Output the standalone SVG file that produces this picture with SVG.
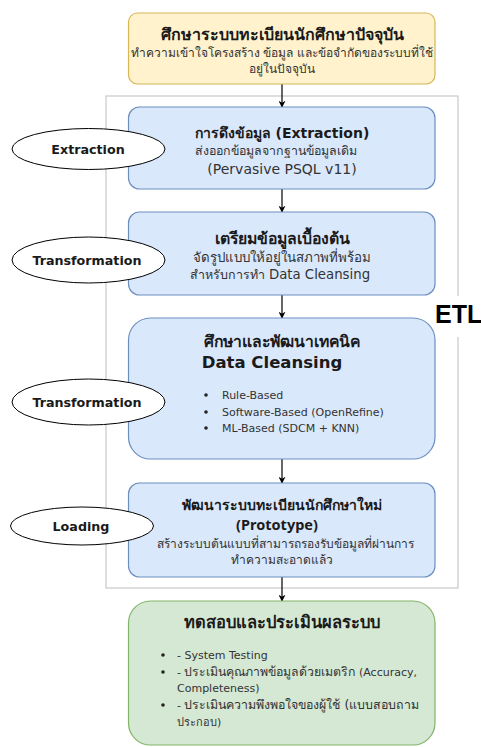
<svg xmlns="http://www.w3.org/2000/svg" width="481" height="747" viewBox="0 0 481 747">
  <defs>
    <marker id="arrow" viewBox="0 0 10 10" refX="9" refY="5" markerWidth="7" markerHeight="7" orient="auto" markerUnits="userSpaceOnUse">
      <path d="M0,0 L10,5 L0,10 L3,5 z" fill="#000"/>
    </marker>
    <style>
      text { font-family: "DejaVu Sans", "Noto Sans", sans-serif; fill: #1a1a1a; text-anchor: middle; }
      .title { font-weight: bold; }
      .narrow { font-family: "Noto Sans", "DejaVu Sans", sans-serif; }
      .sub { fill: #333; }
      .item { font-size: 11px; fill: #333; text-anchor: start; }
      .phase { font-size: 12.7px; font-weight: bold; }
      .etl { font-family: "Liberation Sans", Arial, sans-serif; font-size: 25px; font-weight: bold; fill: #000; text-anchor: start; }
      .yellow { fill: #fff2cc; stroke: #d6b656; stroke-width: 1.2; }
      .blue { fill: #dae8fc; stroke: #6c8ebf; stroke-width: 1.2; }
      .green { fill: #d5e8d4; stroke: #82b366; stroke-width: 1.2; }
      .oval { fill: #fff; stroke: #000; stroke-width: 1; }
      .dot { fill: #222; }
      .edge { stroke: #000; stroke-width: 1.2; fill: none; marker-end: url(#arrow); }
    </style>
  </defs>

  <rect width="481" height="747" fill="#fff"/>

  <!-- ETL stage frame; the label sits on a gap in the right edge -->
  <g id="etl-frame">
    <rect x="106" y="96" width="352" height="492" fill="none" stroke="#c8c8c8" stroke-width="1.2"/>
    <rect x="436" y="296" width="45" height="41" fill="#fff"/>
    <text class="etl" x="435" y="323">ETL</text>
  </g>

  <!-- connectors -->
  <g id="connectors">
    <line class="edge" x1="282" y1="84" x2="282" y2="107"/>
    <line class="edge" x1="282" y1="189" x2="282" y2="212"/>
    <line class="edge" x1="282" y1="295" x2="282" y2="318"/>
    <line class="edge" x1="282" y1="459" x2="282" y2="483"/>
    <line class="edge" x1="282" y1="577" x2="282" y2="601"/>
  </g>

  <g id="current-system">
    <rect class="yellow" x="128.5" y="13" width="306.5" height="71" rx="9"/>
    <text class="title" x="282" y="39.5" font-size="16">ศึกษาระบบทะเบียนนักศึกษาปัจจุบัน</text>
    <text class="sub" x="282" y="57" font-size="12">ทำความเข้าใจโครงสร้าง ข้อมูล และข้อจำกัดของระบบที่ใช้</text>
    <text class="sub" x="282" y="73" font-size="12">อยู่ในปัจจุบัน</text>
  </g>

  <g id="extraction">
    <rect class="blue" x="128.5" y="107" width="306.5" height="82" rx="11"/>
    <text class="title" x="282" y="138" font-size="14">การดึงข้อมูล (Extraction)</text>
    <text class="sub" x="276" y="155" font-size="12.4">ส่งออกข้อมูลจากฐานข้อมูลเดิม</text>
    <text class="sub" x="282" y="174" font-size="14">(Pervasive PSQL v11)</text>
  </g>

  <g id="preprocessing">
    <rect class="blue" x="128.5" y="212" width="306.5" height="83" rx="11"/>
    <text class="title" x="282" y="244" font-size="15.8">เตรียมข้อมูลเบื้องต้น</text>
    <text class="sub" x="282" y="262" font-size="13.3">จัดรูปแบบให้อยู่ในสภาพที่พร้อม</text>
    <text class="sub" x="280" y="279" font-size="12.5">สำหรับการทำ <tspan font-size="13.3">Data Cleansing</tspan></text>
  </g>

  <g id="cleansing">
    <rect class="blue" x="128.5" y="318" width="306.5" height="141" rx="22"/>
    <text class="title" x="282" y="347" font-size="15.7">ศึกษาและพัฒนาเทคนิค</text>
    <text class="title" x="272" y="368" font-size="16.5">Data Cleansing</text>
    <circle class="dot" cx="206" cy="395" r="1.8"/>
    <circle class="dot" cx="206" cy="412" r="1.8"/>
    <circle class="dot" cx="206" cy="428" r="1.8"/>
    <text class="item" x="222" y="399">Rule-Based</text>
    <text class="item" x="222" y="416">Software-Based (OpenRefine)</text>
    <text class="item" x="222" y="432">ML-Based (SDCM + KNN)</text>
  </g>

  <g id="prototype">
    <rect class="blue" x="128.5" y="483" width="306.5" height="94" rx="11"/>
    <text class="title" x="282" y="510" font-size="14">พัฒนาระบบทะเบียนนักศึกษาใหม่</text>
    <text class="title narrow" x="277" y="530" font-size="14.5">(Prototype)</text>
    <text class="sub" x="285" y="548" font-size="12">สร้างระบบต้นแบบที่สามารถรองรับข้อมูลที่ผ่านการ</text>
    <text class="sub" x="282" y="564" font-size="12">ทำความสะอาดแล้ว</text>
  </g>

  <g id="evaluation">
    <rect class="green" x="128.5" y="601" width="306.5" height="144" rx="22"/>
    <text class="title" x="282" y="628" font-size="16.5">ทดสอบและประเมินผลระบบ</text>
    <circle class="dot" cx="163" cy="655" r="1.8"/>
    <circle class="dot" cx="163" cy="672" r="1.8"/>
    <circle class="dot" cx="163" cy="705" r="1.8"/>
    <text class="item" x="177" y="659">- System Testing</text>
    <text class="item" x="177" y="676">- <tspan font-size="12.3">ประเมินคุณภาพข้อมูลด้วยเมตริก</tspan> (Accuracy,</text>
    <text class="item" x="177" y="692">Completeness)</text>
    <text class="item" x="177" y="709">- <tspan font-size="12.4">ประเมินความพึงพอใจของผู้ใช้ (แบบสอบถาม</tspan></text>
    <text class="item" x="177" y="726" font-size="12.4">ประกอบ)</text>
  </g>

  <!-- phase labels -->
  <g id="phase-extraction">
    <ellipse class="oval" cx="88.5" cy="149" rx="76.5" ry="20.5"/>
    <text class="phase" x="88" y="154">Extraction</text>
  </g>
  <g id="phase-transformation-1">
    <ellipse class="oval" cx="88.5" cy="260" rx="76.5" ry="23"/>
    <text class="phase" x="87" y="265">Transformation</text>
  </g>
  <g id="phase-transformation-2">
    <ellipse class="oval" cx="88.5" cy="402" rx="76.5" ry="23"/>
    <text class="phase" x="87" y="407">Transformation</text>
  </g>
  <g id="phase-loading">
    <ellipse class="oval" cx="82" cy="526" rx="71.5" ry="19"/>
    <text class="phase" x="81" y="531">Loading</text>
  </g>
</svg>
